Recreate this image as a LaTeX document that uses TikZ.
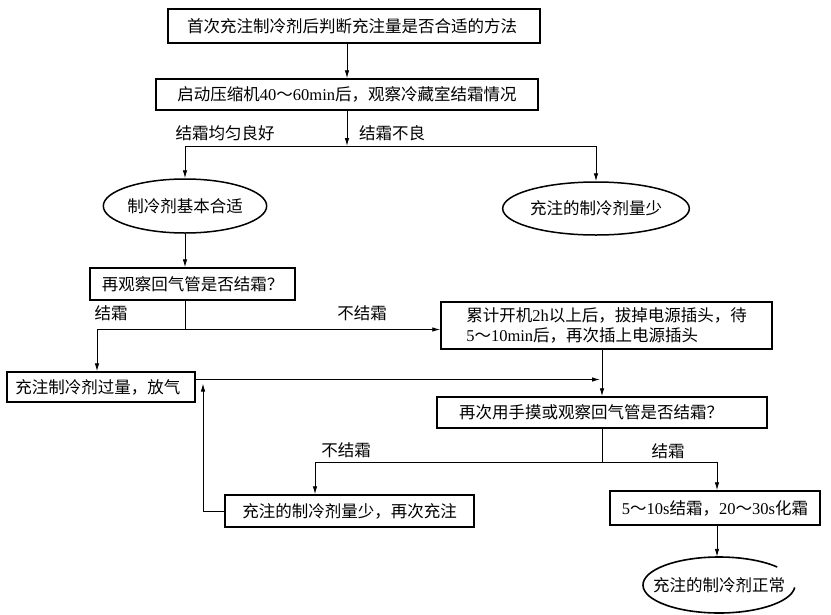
\documentclass[tikz,border=0pt]{standalone}
\usepackage{fontspec}
\setmainfont{Noto Sans CJK SC}
\newfontfamily\latf{Liberation Serif}
\newcommand\lt[1]{{\latf #1}}
\usetikzlibrary{arrows.meta,shapes.geometric,calc}
\begin{document}
\begin{tikzpicture}[x=1pt,y=-1pt,
  every node/.style={font=\fontsize{16.5}{20}\selectfont},
  boxn/.style={draw, line width=1.5pt, inner sep=0pt, align=center},
  ell/.style={draw, ellipse, line width=1.5pt, inner sep=0pt},
  conn/.style={line width=0.9pt},
  arr/.style={conn, -{Latex[length=8pt,width=4.5pt]}},
  lbl/.style={inner sep=0pt}]
\fill[white] (0,0) rectangle (831,614);
\useasboundingbox (0,0) rectangle (831,614);

\node[boxn,minimum width=372pt,minimum height=34pt] (b1) at (354,26) {首次充注制冷剂后判断充注量是否合适的方法\hspace{4pt}};
\node[boxn,minimum width=382pt,minimum height=31pt] (b2) at (347,94.5) {启动压缩机\lt{40}～\lt{60min}后，观察冷藏室结霜情况};
\node[ell,minimum width=154pt,minimum height=54pt] (e1) at (185,206) {制冷剂基本合适};
\node[ell,minimum width=154pt,minimum height=53pt] (e2) at (596,208.5) {充注的制冷剂量少};
\node[boxn,minimum width=205pt,minimum height=32pt] (b3) at (192.5,284) {再观察回气管是否结霜？};
\node[boxn,minimum width=188pt,minimum height=30pt] (b4) at (101,387) {充注制冷剂过量，放气\hspace{6pt}};
\node[boxn,minimum width=331pt,minimum height=47pt,align=left] (b5) at (606.5,325.5) {累计开机\lt{2h}以上后，拔掉电源插头，待\\\lt{5}～\lt{10min}后，再次插上电源插头};
\node[boxn,minimum width=330pt,minimum height=31pt] (b6) at (602,412.5) {再次用手摸或观察回气管是否结霜？\hspace{22pt}};
\node[boxn,minimum width=249pt,minimum height=32pt] (b7) at (349.5,511) {充注的制冷剂量少，再次充注};
\node[boxn,minimum width=210pt,minimum height=34pt] (b8) at (715,508) {\lt{5}～\lt{10s}结霜，\lt{20}～\lt{30s}化霜};
\node[inner sep=0pt,minimum width=152pt,minimum height=56pt] (e3) at (719,585) {充注的制冷剂正常};
\draw[line width=1.6pt] (e3.center) ++(5:76 and 28) arc[start angle=5,end angle=320,x radius=76,y radius=28];

\coordinate (j1) at (347,146);
\draw[arr] (b1.south -| b2.north) -- (b2.north);
\draw[arr] (b2.south) -- (j1);
\draw[conn] (e1.north |- j1) -- (e2.north |- j1);
\draw[arr] (e1.north |- j1) -- (e1.north);
\draw[arr] (e2.north |- j1) -- (e2.north);
\draw[arr] (e1.south) -- (e1.south |- b3.north);

\coordinate (j2) at (185,329.5);
\coordinate (j2l) at (97,329.5);
\draw[conn] (e1.south |- b3.south) -- (j2);
\draw[arr] (j2) -- (j2l) -- (j2l |- b4.north);
\draw[arr] (j2) -- (b5.west |- j2);

\coordinate (j3) at (195,379.5);
\coordinate (j3r) at (600,379.5);
\draw[arr] (j3) -- (j3r);
\draw[arr] (b5.south -| b6.north) -- (b6.north);

\coordinate (j4) at (602,462);
\coordinate (j4l) at (315,462);
\coordinate (j4r) at (717,462);
\draw[conn] (b6.south) -- (j4);
\draw[conn] (j4l) -- (j4r);
\draw[arr] (j4l) -- (j4l |- b7.north);
\draw[arr] (j4r) -- (j4r |- b8.north);
\draw[arr] (j4r |- b8.south) -- (j4r |- e3.north);

\coordinate (j5) at (203,383.5);
\draw[arr] (b7.west) -| (j5);

\node[lbl] (l1) at (225,133) {结霜均匀良好};
\node[lbl] (l2) at (392,133) {结霜不良};
\node[lbl] (l3) at (111,313) {结霜};
\node[lbl] (l4) at (362,313) {不结霜};
\node[lbl] (l5) at (346,450) {不结霜};
\node[lbl] (l6) at (668,451) {结霜};
\end{tikzpicture}
\end{document}
